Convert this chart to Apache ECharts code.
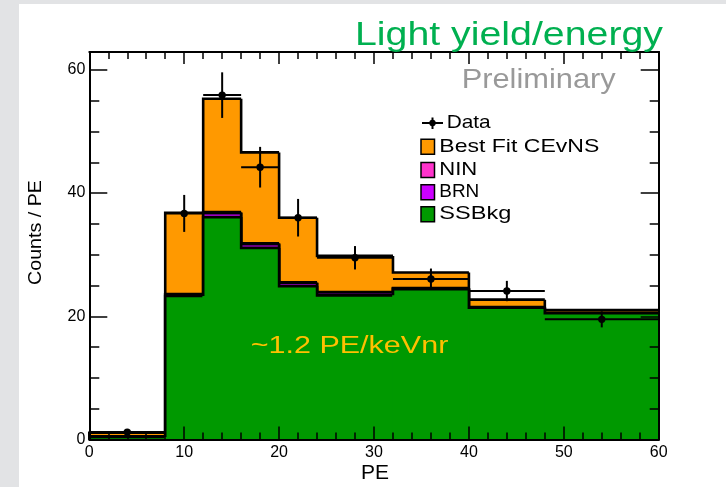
<!DOCTYPE html>
<html>
<head>
<meta charset="utf-8">
<script src="https://cdn.jsdelivr.net/npm/echarts@6/dist/echarts.min.js"></script>
<style>
  html, body { margin: 0; padding: 0; background: #e2e3e5; }
  #chart { width: 726px; height: 487px; }
</style>
</head>
<body>
<div id="chart"></div>
<script>
// Variable-width PE bins (edges) and the stacked model components (counts / PE)
const binEdges = [0, 8, 12, 16, 20, 24, 32, 40, 48, 60];
const ssbkg = [0.4, 23.3, 36.1, 31.1, 24.9, 23.4, 24.4, 21.4, 20.5];
const brn   = [0.05, 0.2, 0.65, 0.6, 0.5, 0.45, 0.15, 0.05, 0.02];
const nin   = [0.05, 0.1, 0.15, 0.15, 0.1, 0.1, 0.05, 0.03, 0.02];
const cevns = [0.6, 13.2, 18.4, 14.75, 10.5, 5.85, 2.5, 1.22, 0.46];

// Measured data points with statistical errors
const dataX   = [4, 10, 14, 18, 22, 28, 36, 44, 54];
const dataY   = [1.2, 36.7, 55.9, 44.2, 36.0, 29.5, 26.05, 24.1, 19.5];
const dataErr = [0.4, 3.0, 3.7, 3.3, 3.05, 1.9, 1.7, 1.65, 1.3];

// Axis ranges and ticks
const xRange = [0, 60];
const yRange = [0, 62.9];
const yLabelValues = [0, 20, 40, 60];

const FONT = "'Liberation Sans', Arial, Helvetica, sans-serif";
const COL = { cevns: '#ff9900', nin: '#ff33cc', brn: '#cc00ff', ssb: '#009900' };
const OUTLINE = 2.6;

// Cumulative stack levels (drawn top-down, as ROOT's THStack does)
const lvlSsb = ssbkg.slice();
const lvlBrn = lvlSsb.map((v, i) => v + brn[i]);
const lvlNin = lvlBrn.map((v, i) => v + nin[i]);
const lvlTot = lvlNin.map((v, i) => v + cevns[i]);

function histItems(levels) {
  return levels.map((v, i) => [binEdges[i], binEdges[i + 1], v, i === 0 ? 0 : levels[i - 1]]);
}

function histSeries(name, levels, color) {
  return {
    name: name,
    type: 'custom',
    xAxisIndex: 0, yAxisIndex: 0,
    data: histItems(levels),
    encode: { x: [0, 1], y: [2] },
    renderItem: function (params, api) {
      const x0 = api.value(0), x1 = api.value(1), v = api.value(2), prev = api.value(3);
      const tl = api.coord([x0, v]);
      const br = api.coord([x1, 0]);
      const pv = api.coord([x0, prev]);
      // fill slightly overlaps the previous bin so no seam shows between bins
      const pad = params.dataIndex === 0 ? 0 : 0.8;
      return {
        type: 'group',
        children: [
          { type: 'rect', shape: { x: tl[0] - pad, y: tl[1], width: br[0] - tl[0] + pad, height: br[1] - tl[1] },
            style: { fill: color } },
          { type: 'polyline', shape: { points: [[pv[0], pv[1]], [tl[0], tl[1]], [br[0], tl[1]]] },
            style: { stroke: '#000', lineWidth: OUTLINE, fill: null } }
        ]
      };
    }
  };
}

const dataItems = dataX.map((x, i) => [x, dataY[i], dataErr[i], binEdges[i], binEdges[i + 1]]);

const dataSeries = {
  name: 'Data',
  type: 'custom',
  xAxisIndex: 0, yAxisIndex: 0,
  data: dataItems,
  encode: { x: [0], y: [1] },
  z: 5,
  renderItem: function (params, api) {
    const x = api.value(0), v = api.value(1), e = api.value(2), lo = api.value(3), hi = api.value(4);
    const c = api.coord([x, v]);
    const t = api.coord([x, v + e]);
    const b = api.coord([x, v - e]);
    const l = api.coord([lo, v]);
    const r = api.coord([hi, v]);
    return {
      type: 'group',
      children: [
        { type: 'line', shape: { x1: l[0], y1: l[1], x2: r[0], y2: r[1] }, style: { stroke: '#000', lineWidth: 2 } },
        { type: 'line', shape: { x1: t[0], y1: t[1], x2: b[0], y2: b[1] }, style: { stroke: '#000', lineWidth: 2 } },
        { type: 'circle', shape: { cx: c[0], cy: c[1], r: 3.7 }, style: { fill: '#000' } }
      ]
    };
  }
};

// Horizontal stretch needed so a string spans a given pixel width
const measureCtx = document.createElement('canvas').getContext('2d');
function stretch(text, size, width) {
  measureCtx.font = size + 'px ' + FONT;
  return width / measureCtx.measureText(text).width;
}

function label(text, x, y, size, color, width, extra) {
  return Object.assign({
    type: 'text', x: x, y: y, z: 100,
    scaleX: stretch(text, size, width),
    style: { text: text, x: 0, y: 0, fill: color, font: size + 'px ' + FONT, align: 'left', verticalAlign: 'middle' }
  }, extra || {});
}

const legendRows = [
  { name: 'Best Fit CEvNS', color: COL.cevns, y: 146.8, w: 160 },
  { name: 'NIN', color: COL.nin, y: 170, w: 38 },
  { name: 'BRN', color: COL.brn, y: 192.3, w: 40 },
  { name: 'SSBkg', color: COL.ssb, y: 214.3, w: 72 }
];

const graphics = [
  { type: 'rect', z: -10, shape: { x: 19, y: 4, width: 707, height: 483 }, style: { fill: '#ffffff' } },
  label('Light yield/energy', 355, 35.8, 34, '#00b050', 308),
  label('Preliminary', 461.7, 80, 28, '#999999', 154),
  label('~1.2 PE/keVnr', 250.7, 346.7, 23.3, '#ffc000', 197.6),
  label('PE', 361, 474, 19.5, '#000', 28),
  {
    type: 'text', x: 36.5, y: 285, z: 100, rotation: Math.PI / 2,
    scaleX: stretch('Counts / PE', 17.5, 105),
    style: { text: 'Counts / PE', x: 0, y: 0, fill: '#000', font: '17.5px ' + FONT, align: 'left', verticalAlign: 'middle' }
  },
  // legend: data marker
  { type: 'line', z: 100, shape: { x1: 422, y1: 123, x2: 443, y2: 123 }, style: { stroke: '#000', lineWidth: 2 } },
  { type: 'line', z: 100, shape: { x1: 432.5, y1: 117.5, x2: 432.5, y2: 129 }, style: { stroke: '#000', lineWidth: 2 } },
  { type: 'circle', z: 100, shape: { cx: 432.5, cy: 123, r: 3.2 }, style: { fill: '#000' } },
  label('Data', 446.7, 123, 17.7, '#000', 44)
];
legendRows.forEach(function (row) {
  graphics.push({ type: 'rect', z: 100, shape: { x: 421, y: row.y - 7.5, width: 13.5, height: 15 },
    style: { fill: row.color, stroke: '#000', lineWidth: 1.5 } });
  graphics.push(label(row.name, 439.3, row.y, 17.7, '#000', row.w));
});

function xAxisDef(pos, withLabels, majorLen) {
  return {
    type: 'value', position: pos, min: xRange[0], max: xRange[1], interval: 10, z: 10,
    axisLine: { show: true, onZero: false, lineStyle: { color: '#000', width: 2 } },
    axisTick: { show: true, inside: true, length: majorLen, lineStyle: { color: '#000', width: 1.5 } },
    minorTick: { show: true, splitNumber: 5, length: 7, lineStyle: { color: '#000', width: 1.5 } },
    axisLabel: { show: withLabels, margin: 5, color: '#000', fontSize: 16, fontFamily: FONT },
    splitLine: { show: false }, minorSplitLine: { show: false }
  };
}

function yAxisDef(pos, interval, tickLen, withLabels) {
  return {
    type: 'value', position: pos, min: yRange[0], max: yRange[1], interval: interval, z: 10,
    axisLine: { show: true, onZero: false, lineStyle: { color: '#000', width: 2 } },
    axisTick: { show: true, inside: true, length: tickLen, lineStyle: { color: '#000', width: 1.5 } },
    axisLabel: {
      show: withLabels, margin: 4, color: '#000', fontSize: 16, fontFamily: FONT,
      formatter: function (v) { return yLabelValues.indexOf(v) >= 0 ? String(v) : ''; }
    },
    splitLine: { show: false }
  };
}

const chart = echarts.init(document.getElementById('chart'), null, { renderer: 'canvas' });
chart.setOption({
  animation: false,
  backgroundColor: '#e2e3e5',
  grid: { left: 89.3, right: 67.3, top: 52, bottom: 47.5, containLabel: false },
  xAxis: [xAxisDef('bottom', true, 13), xAxisDef('top', false, 12)],
  yAxis: [
    yAxisDef('left', 5, 10, true),
    yAxisDef('right', 5, 9, false),
    yAxisDef('left', 20, 18, false),
    yAxisDef('right', 20, 18, false)
  ],
  graphic: { elements: graphics },
  series: [
    histSeries('Best Fit CEvNS', lvlTot, COL.cevns),
    histSeries('NIN', lvlNin, COL.nin),
    histSeries('BRN', lvlBrn, COL.brn),
    histSeries('SSBkg', lvlSsb, COL.ssb),
    dataSeries
  ]
});
</script>
</body>
</html>
